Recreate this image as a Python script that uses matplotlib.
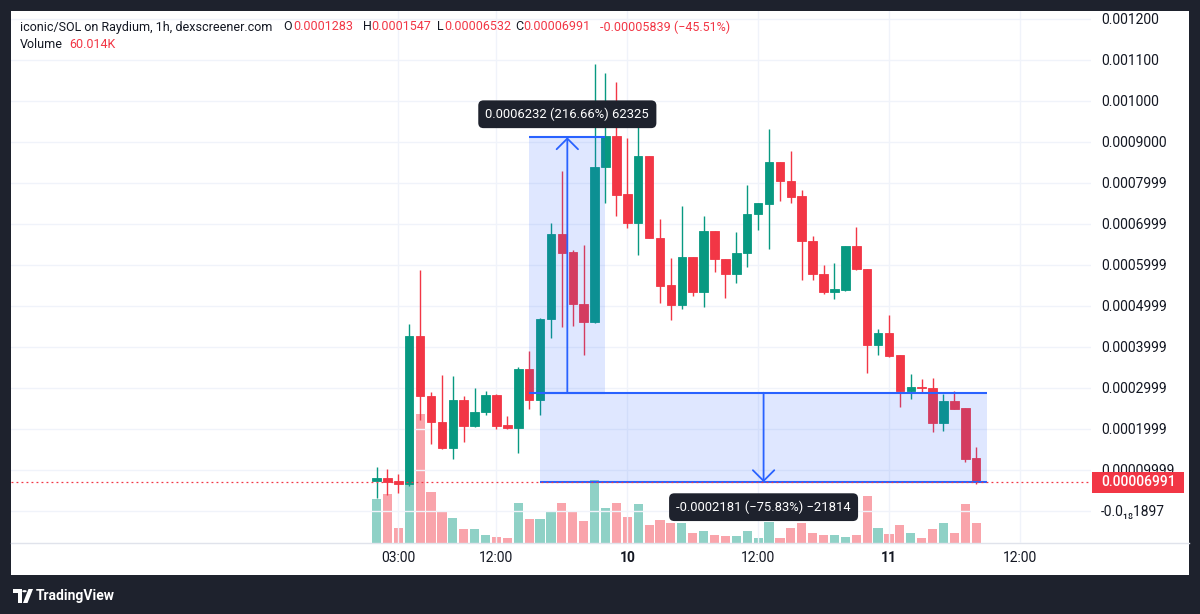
import matplotlib
matplotlib.use("Agg")
import matplotlib.pyplot as plt
from matplotlib.patches import Rectangle, Polygon, Circle
from matplotlib.lines import Line2D
from matplotlib.colors import to_rgba
from matplotlib.transforms import blended_transform_factory
import numpy as np

plt.rcParams['font.family'] = ['Roboto', 'DejaVu Sans']

# ---------------- data ----------------
# hour offset from 9th 00:00 (1h candles)
hours = list(range(1, 57))
# prices in units of 1e-4 SOL
opens_u = [0.734, 0.792, 0.726, 0.645, 4.271, 2.804, 2.161, 1.540, 2.689, 2.054,
           2.396, 2.829, 2.078, 2.015, 3.457, 2.707, 4.668, 6.749, 6.310, 5.041,
           4.610, 8.376, 9.139, 7.724, 7.024, 8.651, 6.659, 5.505, 5.017, 6.188,
           5.341, 6.822, 6.139, 5.773, 6.278, 7.229, 7.473, 8.505, 8.049, 7.676,
           6.585, 5.780, 5.341, 5.383, 6.456, 5.888, 4.041, 4.341, 3.798, 2.927,
           3.017, 2.985, 2.132, 2.683, 2.498, 1.283]
highs_u = [1.061, 1.012, 0.897, 4.565, 5.868, 2.885, 3.318, 3.293, 2.787, 3.000,
           2.910, 2.850, 2.298, 3.506, 3.888, 4.700, 7.010, 8.293, 6.359, 6.480,
           10.895, 10.683, 10.449, 9.098, 9.366, 8.660, 7.107, 6.156, 7.439, 6.195,
           7.188, 6.830, 6.145, 6.805, 7.944, 7.510, 9.310, 8.510, 8.773, 7.822,
           6.700, 5.993, 6.034, 6.460, 6.927, 5.895, 4.432, 4.773, 3.805, 3.334,
           3.205, 3.229, 2.846, 2.927, 2.505, 1.547]
lows_u = [0.303, 0.384, 0.425, 0.604, 2.218, 1.623, 1.501, 1.257, 1.680, 2.029,
          2.323, 1.990, 1.990, 1.418, 2.487, 2.323, 4.205, 4.473, 4.505, 3.798,
          4.585, 7.512, 7.188, 6.902, 6.237, 6.640, 5.059, 4.651, 4.912, 5.244,
          4.961, 5.829, 5.195, 5.561, 5.951, 6.846, 6.383, 7.561, 7.512, 5.627,
          5.627, 5.285, 5.156, 5.366, 5.880, 3.351, 3.798, 3.756, 2.522, 2.717,
          2.902, 1.927, 1.951, 2.470, 1.195, 0.6532]
closes_u = [0.792, 0.709, 0.645, 4.271, 2.804, 2.161, 1.540, 2.689, 2.071, 2.406,
            2.829, 2.054, 2.015, 3.457, 2.707, 4.687, 6.749, 6.293, 5.034, 4.610,
            8.390, 9.139, 7.700, 7.024, 8.651, 6.644, 5.488, 5.017, 6.188, 5.341,
            6.822, 6.132, 5.773, 6.293, 7.237, 7.498, 8.505, 8.049, 7.659, 6.578,
            5.773, 5.327, 5.407, 6.456, 5.888, 4.041, 4.341, 3.773, 2.927, 3.010,
            3.000, 2.132, 2.683, 2.480, 1.268, 0.6991]
# volume in thousands
volumes_k = [133, 148, 45, 405, 390, 153, 95, 74, 42, 42,
             24, 18, 14, 121, 71, 71, 94, 121, 94, 64,
             189, 106, 121, 79, 118, 52, 69, 59, 59, 28,
             34, 23, 19, 19, 34, 14, 62, 14, 44, 59,
             28, 23, 23, 16, 23, 141, 44, 26, 53, 30,
             13, 40, 60, 30, 117, 60.014]

price_ticks_u = list(range(0, 13))
price_tick_labels = ["-0.0\u2081\u20881897", "0.00009999", "0.0001999", "0.0002999",
                     "0.0003999", "0.0004999", "0.0005999", "0.0006999", "0.0007999",
                     "0.0009000", "0.001000", "0.001100", "0.001200"]
time_ticks = [3, 12, 24, 36, 48, 60]
time_labels = ["03:00", "12:00", "10", "12:00", "11", "12:00"]
time_bold = [False, False, True, False, True, False]

# price-range measurements: (start hour, end hour, from price, to price), label
range1 = (15, 22, 0.00028764, 0.00091084)
range1_label = "0.0006232 (216.66%) 62325"
range2 = (16, 57, 0.00028764, 0.00006954)
range2_label = "-0.0002181 (\u221275.83%) \u221221814"

header_main = "iconic/SOL on Raydium, 1h, dexscreener.com"
ohlc_letters = ["O", "H", "L", "C"]
ohlc_values = ["0.0001283", "0.0001547", "0.00006532", "0.00006991"]
change_text = "-0.00005839 (\u221245.51%)"
volume_value = "60.014K"
last_price_label = "0.00006991"

# ---------------- style ----------------
W, H, DPI = 1200, 614, 100
DARK = "#1e222d"
GREEN = "#089981"
RED = "#F23645"
BLUE = "#2962ff"
TXT = "#131722"
GRID = "#f0f3fa"

S = 1e-4
opens = np.array(opens_u) * S
highs = np.array(highs_u) * S
lows = np.array(lows_u) * S
closes = np.array(closes_u) * S
x = np.array(hours)
up = closes >= opens
cols = [GREEN if u else RED for u in up]


def fx(px):
    return px / W


def fy(py):
    return 1 - py / H


fig = plt.figure(figsize=(W / DPI, H / DPI), dpi=DPI, facecolor=DARK)
fig.add_artist(Rectangle((fx(10.5), fy(575)), fx(1189) - fx(10.5), fy(10.5) - fy(575),
                         transform=fig.transFigure, facecolor="white", edgecolor="none", zorder=-5))

rect = [fx(10.5), fy(542.5), fx(1091) - fx(10.5), fy(10.5) - fy(542.5)]
ax_vol = fig.add_axes(rect)
ax = fig.add_axes(rect)
ax_vol.set_zorder(1)
ax.set_zorder(2)
ax.patch.set_visible(False)
ax_vol.patch.set_visible(False)

xlim = (-32.57, 66.53)
# volume pane
vcols = [to_rgba(c, 0.45) for c in cols]
ax_vol.bar(x, volumes_k, width=0.84, color=vcols, edgecolor="none")
ax_vol.set_xlim(*xlim)
ax_vol.set_ylim(0, max(volumes_k) * 4.0)
ax_vol.axis("off")

# price pane
ax.set_xlim(*xlim)
ax.set_ylim(-0.776 * S, 12.2 * S)
ax.set_axisbelow(True)
ax.vlines(x, lows, highs, colors=cols, linewidth=1.0, zorder=2)
ax.bar(x, np.abs(closes - opens), bottom=np.minimum(opens, closes), width=0.78,
       color=cols, edgecolor=cols, linewidth=0.6, zorder=3)

ax.set_yticks(np.array(price_ticks_u) * S)
ax.set_yticklabels(price_tick_labels)
ax.yaxis.tick_right()
ax.tick_params(axis="y", length=0, pad=7.2, labelsize=10, labelcolor=TXT)
ax.set_xticks(time_ticks)
ax.set_xticklabels(time_labels)
ax.tick_params(axis="x", length=0, pad=6, labelsize=10, labelcolor=TXT)
for lbl, b in zip(ax.get_xticklabels(), time_bold):
    if b:
        lbl.set_fontweight("bold")
ax.grid(True, color=GRID, linewidth=1.0)
for s in ax.spines.values():
    s.set_visible(False)

# price range tools
for (h0, h1, p_from, p_to), label, above in [(range1, range1_label, True),
                                            (range2, range2_label, False)]:
    lo, hi = min(p_from, p_to), max(p_from, p_to)
    ax.add_patch(Rectangle((h0, lo), h1 - h0, hi - lo, facecolor=to_rgba(BLUE, 0.15),
                           edgecolor="none", zorder=4))
    ax.hlines([lo, hi], h0, h1, colors=BLUE, linewidth=1.5, zorder=5)
    mid = (h0 + h1) / 2
    ax.annotate("", xy=(mid, p_to), xytext=(mid, p_from),
                arrowprops=dict(arrowstyle="->,head_length=0.55,head_width=0.55",
                                color=BLUE, lw=1.3, shrinkA=0, shrinkB=0,
                                mutation_scale=14), zorder=5)
    ax.annotate(label, xy=(mid, hi if above else lo),
                xytext=(0, 23 if above else -25), textcoords="offset pixels",
                ha="center", va="center", color="white", fontsize=9.4,
                bbox=dict(boxstyle="round,pad=0.55,rounding_size=0.4", fc=DARK, ec="none"),
                zorder=8, annotation_clip=False)

# last price line & label
last = closes[-1]
ax.axhline(last, color=RED, linewidth=0.9, linestyle=(0, (1.5, 2.5)), zorder=6)
tr = blended_transform_factory(ax.transAxes, ax.transData)
ax.add_patch(Rectangle((1 + 1 / 1080.5, last - 0.256 * S), 92 / 1080.5, 0.512 * S,
                       transform=tr, facecolor=RED, edgecolor="none", clip_on=False, zorder=9))
ax.text(1 + 10 / 1080.5, last, last_price_label, transform=tr, ha="left", va="center",
        color="white", fontsize=10, fontweight="medium", zorder=10, clip_on=False)

# time axis border
fig.add_artist(Line2D([fx(10.5), fx(1189)], [fy(542.5), fy(542.5)], transform=fig.transFigure,
                      color="#e0e3eb", linewidth=1.0))

# header
hs = 9.0
fig.text(fx(19.5), fy(27), header_main, fontsize=hs, color=TXT, va="center")
letter_x = [283, 363, 436.5, 515.5]
value_x = [293.5, 371.5, 444, 523.5]
for lx, vx, l, v in zip(letter_x, value_x, ohlc_letters, ohlc_values):
    fig.text(fx(lx), fy(27), l, fontsize=hs, color=TXT, va="center")
    fig.text(fx(vx), fy(27), v, fontsize=hs, color=RED, va="center")
fig.text(fx(600), fy(27), change_text, fontsize=hs, color=RED, va="center")
fig.text(fx(19.5), fy(45), "Volume", fontsize=hs, color=TXT, va="center")
fig.text(fx(69), fy(45), volume_value, fontsize=hs, color=RED, va="center")

# TradingView logo
fig.add_artist(Polygon([(fx(13), fy(589)), (fx(21.5), fy(589)), (fx(21.5), fy(603)),
                        (fx(17.5), fy(603)), (fx(17.5), fy(593)), (fx(13), fy(593))],
                       closed=True, transform=fig.transFigure, fc="white", ec="none"))
fig.add_artist(Circle((fx(24.5), fy(591.2)), 2.2 / W, transform=fig.transFigure,
                      fc="white", ec="none"))
fig.add_artist(Polygon([(fx(28.5), fy(589)), (fx(33), fy(589)), (fx(27.5), fy(603)),
                        (fx(23), fy(603))], closed=True, transform=fig.transFigure,
                       fc="white", ec="none"))
fig.text(fx(36), fy(596), "TradingView", fontsize=10, color="white", fontweight="bold",
         va="center")

fig.savefig("out.png", dpi=DPI, facecolor=DARK)
